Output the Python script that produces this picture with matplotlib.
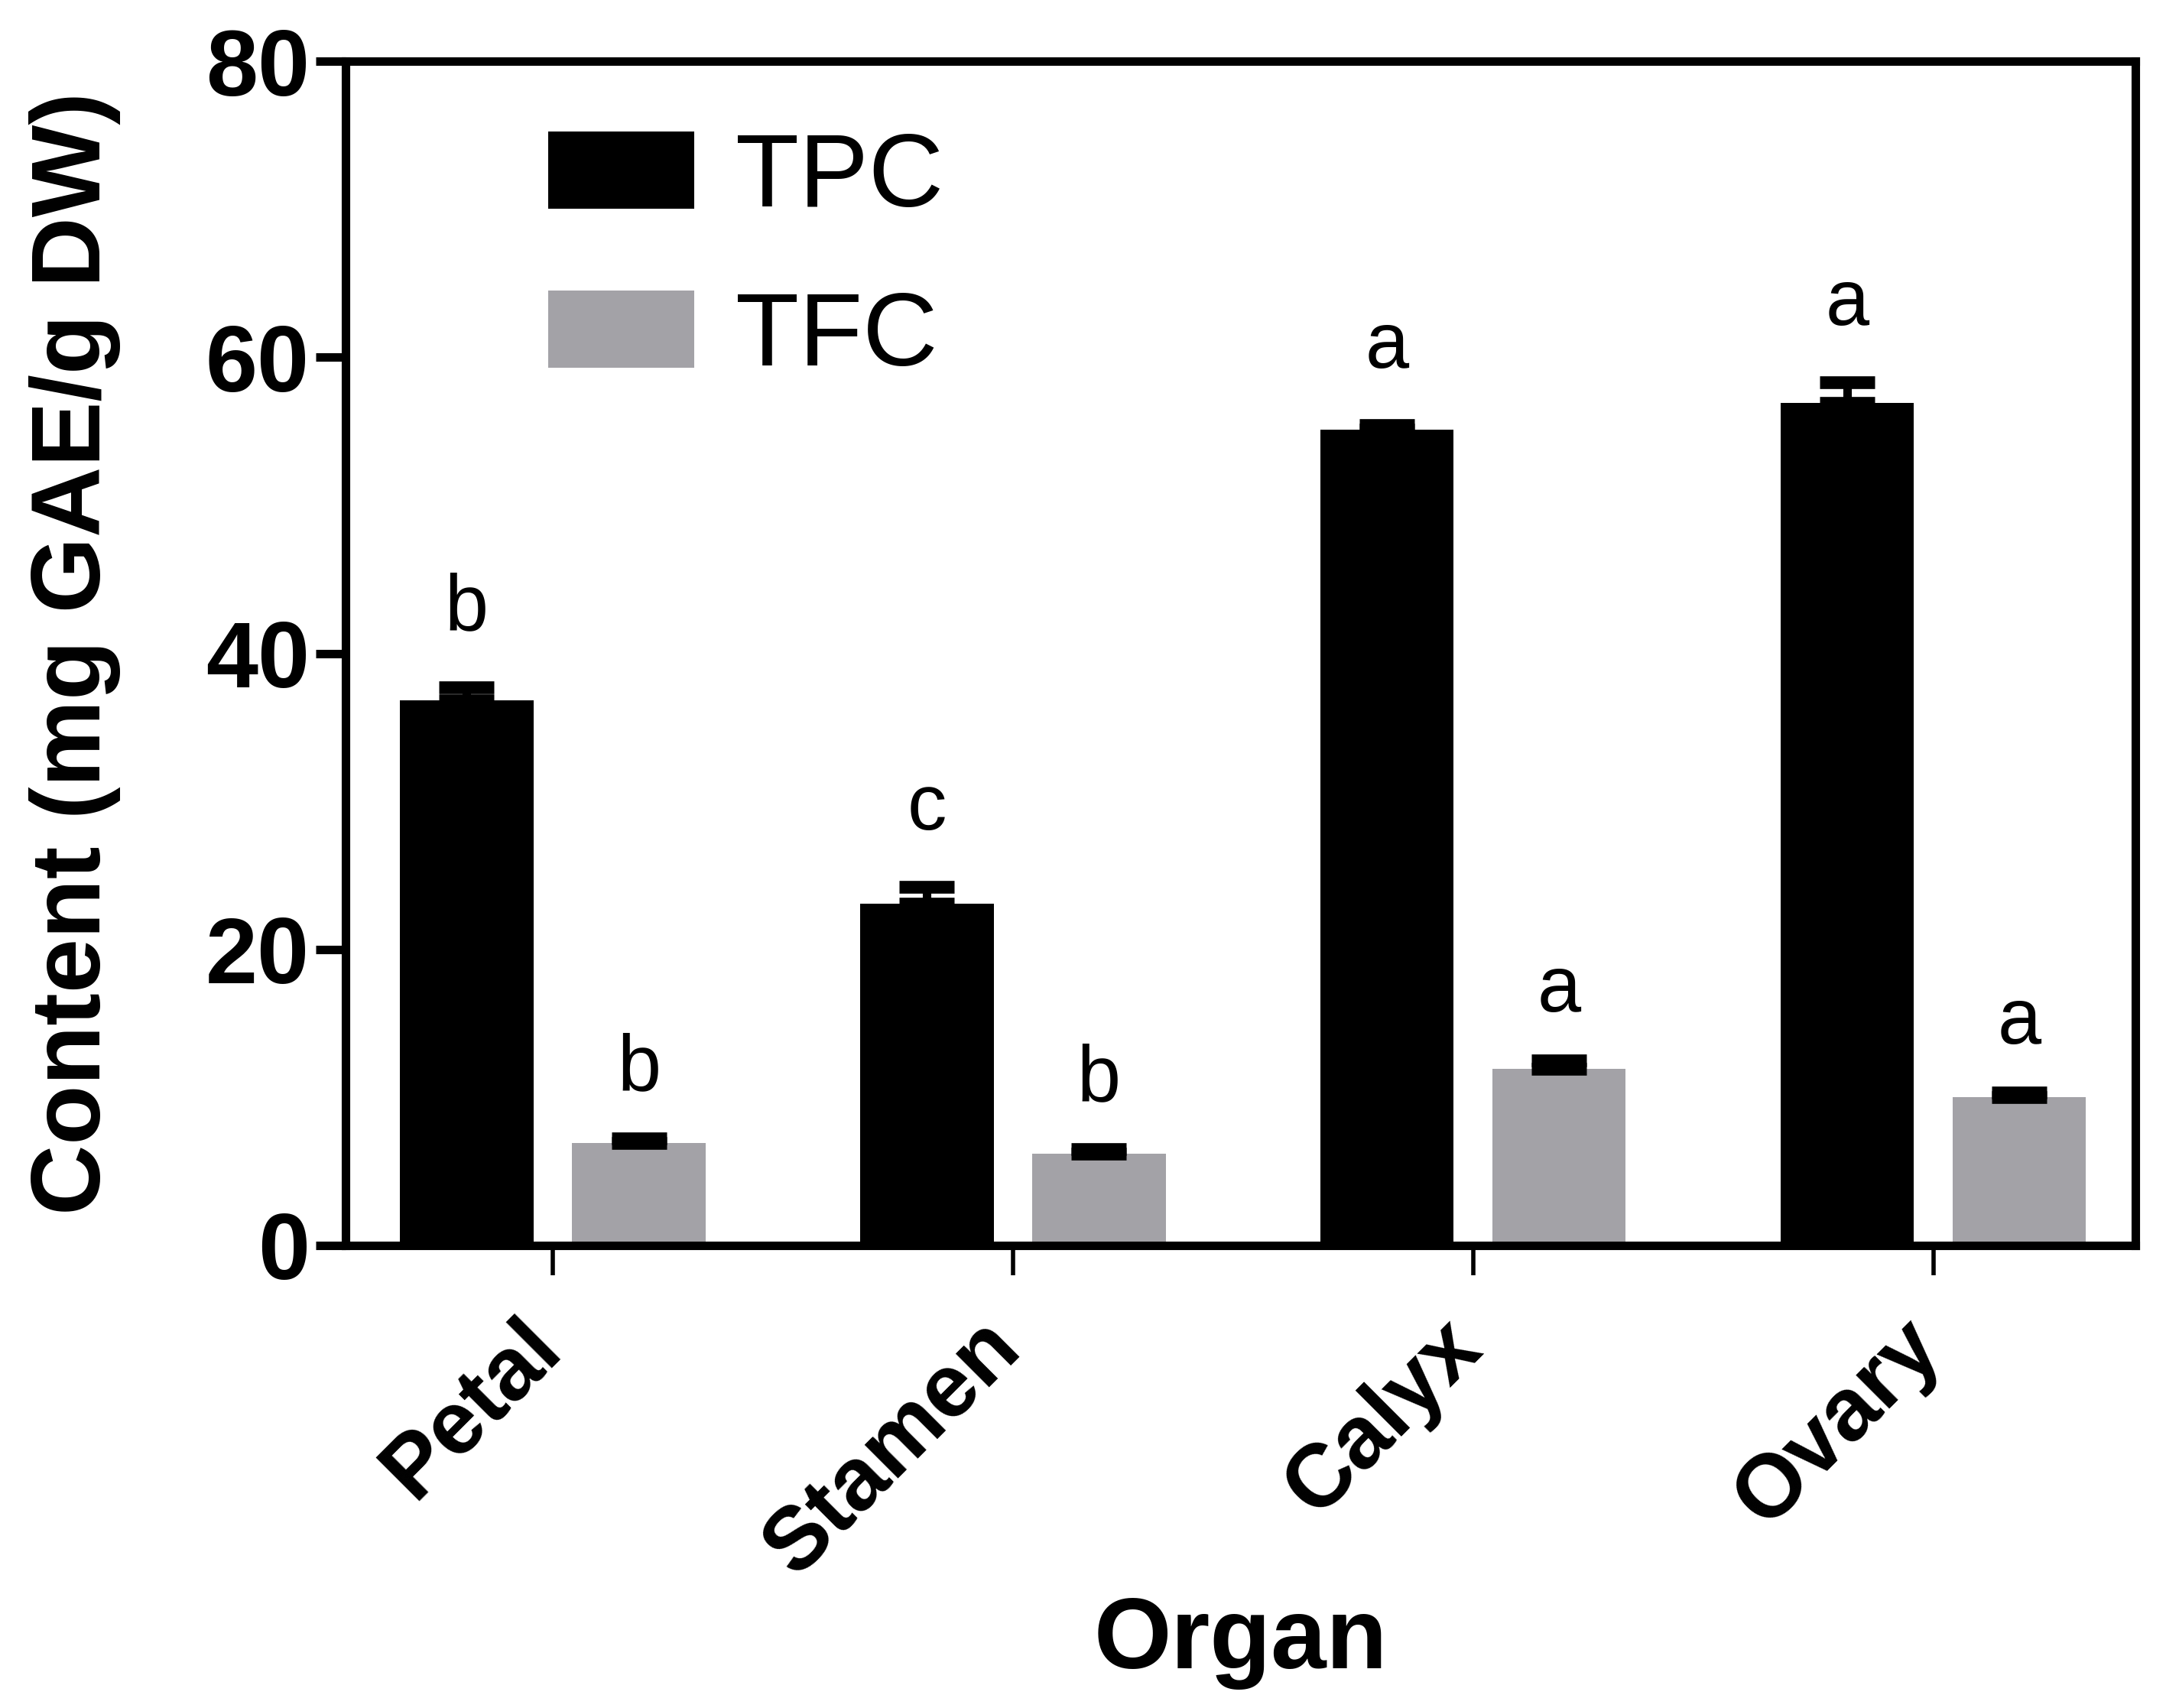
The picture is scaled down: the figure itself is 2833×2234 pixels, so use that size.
import numpy as np
import matplotlib.pyplot as plt
from matplotlib.transforms import ScaledTranslation

plt.rcParams['font.family'] = ['Liberation Sans', 'DejaVu Sans']

organs = ['Petal', 'Stamen', 'Calyx', 'Ovary']
tpc = [36.8, 23.1, 55.1, 56.9]
tpc_err = [0.9, 1.1, 0.3, 1.4]
tfc = [6.9, 6.2, 11.9, 10.0]
tfc_err = [0.3, 0.3, 0.6, 0.3]
tpc_letters = ['b', 'c', 'a', 'a']
tfc_letters = ['b', 'b', 'a', 'a']

grey = '#a3a2a7'

fig = plt.figure(figsize=(28.33, 22.34), dpi=100)
ax = fig.add_axes([0.1596, 0.271, 0.8264, 0.693])

x = np.arange(len(organs))
w = 0.29
off = 0.187
ax.bar(x - off, tpc, w, color='black', zorder=2)
ax.bar(x + off, tfc, w, color=grey, zorder=2)
ax.errorbar(x - off, tpc, yerr=[np.zeros(4), tpc_err], fmt='none',
            ecolor='black', elinewidth=8, capsize=26, capthick=12, zorder=3)
ax.errorbar(x + off, tfc, yerr=[np.zeros(4), tfc_err], fmt='none',
            ecolor='black', elinewidth=8, capsize=26, capthick=12, zorder=3)

for i in range(4):
    ax.text(x[i] - off, tpc[i] + tpc_err[i] + 3.9, tpc_letters[i],
            ha='center', va='baseline', fontsize=74)
    ax.text(x[i] + off, tfc[i] + tfc_err[i] + 3.3, tfc_letters[i],
            ha='center', va='baseline', fontsize=74)

ax.set_xlim(-0.45, 3.44)
ax.set_ylim(0, 80)
ax.set_yticks([0, 20, 40, 60, 80])
ax.set_xticks(x)

for s in ax.spines.values():
    s.set_linewidth(8)
ax.tick_params(axis='y', length=28, width=8, pad=6)
ax.tick_params(axis='x', length=28, width=4, pad=28)

ax.set_xticklabels(organs, rotation=45, ha='right', rotation_mode='anchor',
                   fontsize=84, fontweight='bold')
shift = ScaledTranslation(-33 / 72, 0, fig.dpi_scale_trans)
for lab in ax.get_xticklabels():
    lab.set_transform(lab.get_transform() + shift)
for lab in ax.get_yticklabels():
    lab.set_fontsize(88)
    lab.set_fontweight('bold')

ax.set_ylabel('Content (mg GAE/g DW)', fontsize=92, fontweight='bold', labelpad=80)
ax.set_xlabel('Organ', fontsize=94, fontweight='bold', labelpad=4)

leg = ax.legend(['TPC', 'TFC'], loc='upper left', bbox_to_anchor=(0.061, 1.02),
                frameon=False, fontsize=98, handlelength=1.4, handleheight=0.77,
                labelspacing=0.6, handletextpad=0.4)

fig.savefig('out.png', dpi=100)
